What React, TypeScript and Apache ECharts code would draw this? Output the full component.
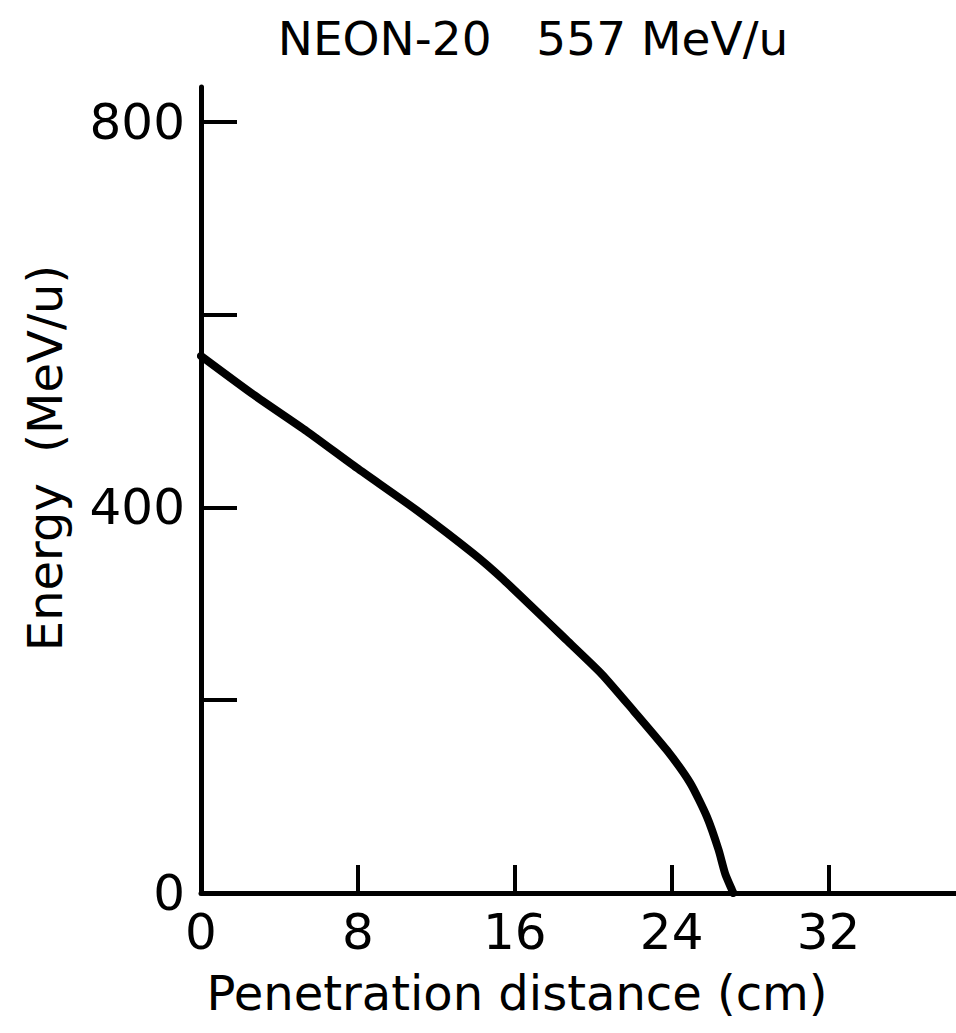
import React, { useEffect, useRef } from "react";
import * as echarts from "echarts";

const distanceCm = [0, 2.67, 5.39, 7.94, 11.0, 13.89, 15.42, 18.66, 20.44, 22.06, 23.76, 24.95, 25.8, 26.39, 26.73, 27.08, 27.15];
const energyMeV = [557, 517, 479, 441, 397, 352, 325, 262, 227, 189, 148, 114, 79, 45, 20, 3, 0];
const xTicks = [8, 16, 24, 32];
const xLabels = [0, 8, 16, 24, 32];
const yTicks = [200, 400, 600, 800];
const yLabels = [0, 400, 800];
const titleText = "NEON-20   557 MeV/u";
const xName = "Penetration distance (cm)";
const yName = "Energy  (MeV/u)";

const FONT = "DejaVu Sans";

export default function App() {
  const ref = useRef<HTMLDivElement>(null);
  useEffect(() => {
    if (!ref.current) return;
    const chart = echarts.init(ref.current, null, { renderer: "svg" });
    const data = distanceCm.map((x, i) => [x, energyMeV[i]]);
    chart.setOption({
      animation: false,
      backgroundColor: "#ffffff",
      grid: { left: 201, top: 87, right: 0, bottom: 140, containLabel: false },
      xAxis: {
        type: "value",
        min: 0,
        max: 38.5,
        splitLine: { show: false },
        axisLine: { show: true, lineStyle: { color: "#000", width: 5 } },
        axisTick: { show: true, inside: true, length: 28, customValues: xTicks, lineStyle: { color: "#000", width: 4 } },
        axisLabel: {
          customValues: xLabels,
          color: "#000",
          fontFamily: FONT,
          fontSize: 50,
          margin: 14,
        },
      },
      yAxis: {
        type: "value",
        min: 0,
        max: 836,
        splitLine: { show: false },
        axisLine: { show: true, lineStyle: { color: "#000", width: 5 } },
        axisTick: { show: true, inside: true, length: 36, customValues: yTicks, lineStyle: { color: "#000", width: 4 } },
        axisLabel: {
          customValues: yLabels,
          color: "#000",
          fontFamily: FONT,
          fontSize: 50,
          margin: 16,
        },
      },
      graphic: [
        {
          type: "text",
          x: 533,
          y: 38,
          style: { text: titleText, fill: "#000", font: `47px '${FONT}'`, align: "center", verticalAlign: "middle" },
        },
        {
          type: "text",
          x: 517,
          y: 993,
          style: { text: xName, fill: "#000", font: `48px '${FONT}'`, align: "center", verticalAlign: "middle" },
        },
        {
          type: "text",
          x: 45,
          y: 458,
          rotation: Math.PI / 2,
          style: { text: yName, fill: "#000", font: `48px '${FONT}'`, align: "center", verticalAlign: "middle" },
        },
      ],
      series: [
        {
          type: "line",
          data,
          smooth: 0.2,
          showSymbol: false,
          lineStyle: { color: "#000", width: 8, join: "round", cap: "round" },
        },
      ],
    });
    return () => chart.dispose();
  }, []);
  return (
    <div
      ref={ref}
      style={{ position: "absolute", left: 0, top: 0, width: 956, height: 1033 }}
    />
  );
}
